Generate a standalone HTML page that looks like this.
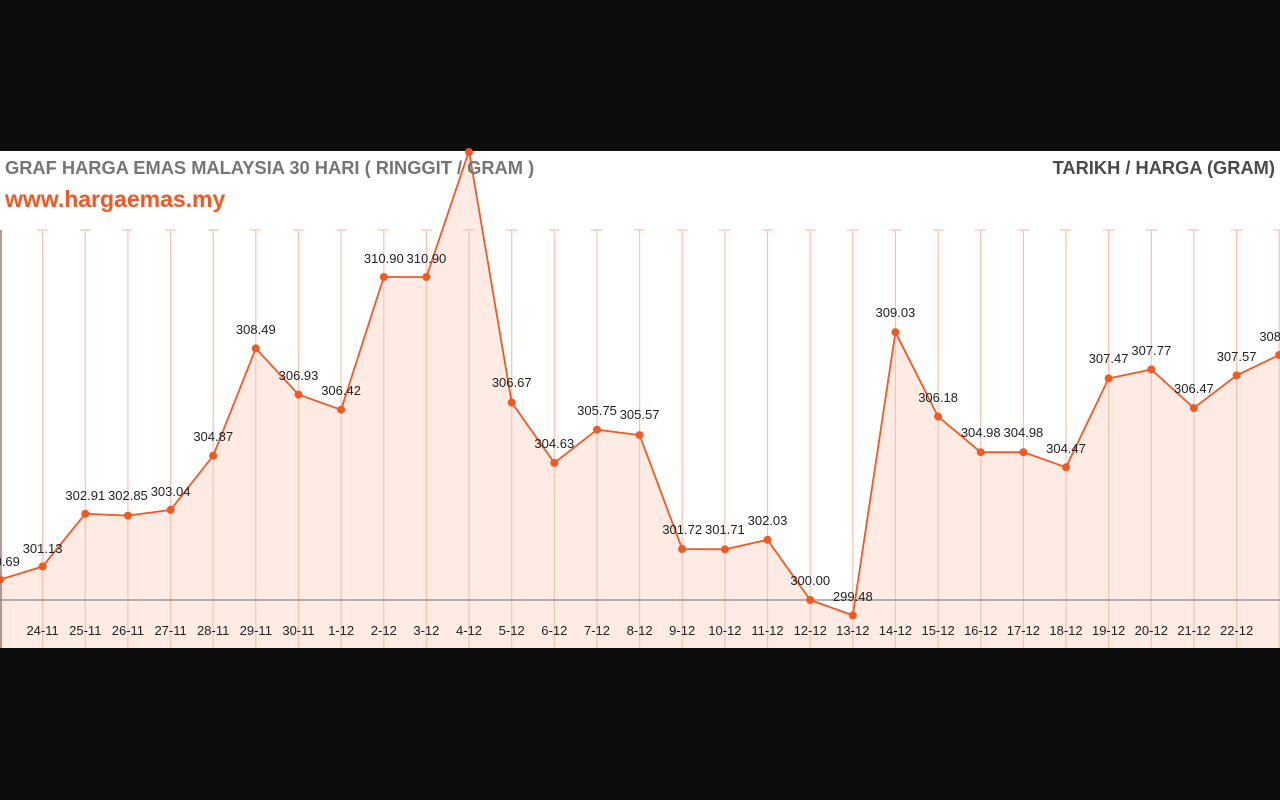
<!DOCTYPE html>
<html><head><meta charset="utf-8"><style>
html,body{margin:0;padding:0;background:#0d0d0d;width:1280px;height:800px;overflow:hidden}
svg{display:block}
</style></head><body>
<svg width="1280" height="800" xmlns="http://www.w3.org/2000/svg" font-family="Liberation Sans, sans-serif">
<rect x="0" y="0" width="1280" height="800" fill="#0d0d0d"/>
<rect x="0" y="151" width="1280" height="497" fill="#ffffff"/>
<polygon fill="#fdebe4" points="0,648 0,579.6 42.6,566.5 85.3,513.8 127.9,515.6 170.6,509.9 213.2,455.7 255.8,348.4 298.5,394.6 341.1,409.7 383.8,277 426.4,277 469,151 511.7,402.5 554.3,462.9 597,429.7 639.6,435.1 682.2,549 724.9,549.3 767.5,539.8 810.2,600 852.8,615.4 895.4,332.2 938.1,416.6 980.7,452.2 1023.4,452.2 1066,467.3 1108.6,378.4 1151.3,369.5 1193.9,408 1236.6,375.4 1279.2,355 1280,355 1280,648"/>
<g stroke="#f7c3b0" stroke-width="1.2">
<line x1="1" y1="230" x2="1" y2="648" stroke="#8a5a4a"/>
<line x1="42.6" y1="230" x2="42.6" y2="648"/><line x1="37" y1="230" x2="48" y2="230"/>
<line x1="85.3" y1="230" x2="85.3" y2="648"/><line x1="80" y1="230" x2="91" y2="230"/>
<line x1="127.9" y1="230" x2="127.9" y2="648"/><line x1="122" y1="230" x2="133" y2="230"/>
<line x1="170.6" y1="230" x2="170.6" y2="648"/><line x1="165" y1="230" x2="176" y2="230"/>
<line x1="213.2" y1="230" x2="213.2" y2="648"/><line x1="208" y1="230" x2="219" y2="230"/>
<line x1="255.8" y1="230" x2="255.8" y2="648"/><line x1="250" y1="230" x2="261" y2="230"/>
<line x1="298.5" y1="230" x2="298.5" y2="648"/><line x1="293" y1="230" x2="304" y2="230"/>
<line x1="341.1" y1="230" x2="341.1" y2="648"/><line x1="336" y1="230" x2="347" y2="230"/>
<line x1="383.8" y1="230" x2="383.8" y2="648"/><line x1="378" y1="230" x2="389" y2="230"/>
<line x1="426.4" y1="230" x2="426.4" y2="648"/><line x1="421" y1="230" x2="432" y2="230"/>
<line x1="469" y1="230" x2="469" y2="648"/><line x1="463" y1="230" x2="475" y2="230"/>
<line x1="511.7" y1="230" x2="511.7" y2="648"/><line x1="506" y1="230" x2="517" y2="230"/>
<line x1="554.3" y1="230" x2="554.3" y2="648"/><line x1="549" y1="230" x2="560" y2="230"/>
<line x1="597" y1="230" x2="597" y2="648"/><line x1="591" y1="230" x2="602" y2="230"/>
<line x1="639.6" y1="230" x2="639.6" y2="648"/><line x1="634" y1="230" x2="645" y2="230"/>
<line x1="682.2" y1="230" x2="682.2" y2="648"/><line x1="677" y1="230" x2="688" y2="230"/>
<line x1="724.9" y1="230" x2="724.9" y2="648"/><line x1="719" y1="230" x2="730" y2="230"/>
<line x1="767.5" y1="230" x2="767.5" y2="648"/><line x1="762" y1="230" x2="773" y2="230"/>
<line x1="810.2" y1="230" x2="810.2" y2="648"/><line x1="805" y1="230" x2="816" y2="230"/>
<line x1="852.8" y1="230" x2="852.8" y2="648"/><line x1="847" y1="230" x2="858" y2="230"/>
<line x1="895.4" y1="230" x2="895.4" y2="648"/><line x1="890" y1="230" x2="901" y2="230"/>
<line x1="938.1" y1="230" x2="938.1" y2="648"/><line x1="933" y1="230" x2="944" y2="230"/>
<line x1="980.7" y1="230" x2="980.7" y2="648"/><line x1="975" y1="230" x2="986" y2="230"/>
<line x1="1023.4" y1="230" x2="1023.4" y2="648"/><line x1="1018" y1="230" x2="1029" y2="230"/>
<line x1="1066" y1="230" x2="1066" y2="648"/><line x1="1060" y1="230" x2="1071" y2="230"/>
<line x1="1108.6" y1="230" x2="1108.6" y2="648"/><line x1="1103" y1="230" x2="1114" y2="230"/>
<line x1="1151.3" y1="230" x2="1151.3" y2="648"/><line x1="1146" y1="230" x2="1157" y2="230"/>
<line x1="1193.9" y1="230" x2="1193.9" y2="648"/><line x1="1188" y1="230" x2="1199" y2="230"/>
<line x1="1236.6" y1="230" x2="1236.6" y2="648"/><line x1="1231" y1="230" x2="1242" y2="230"/>
<line x1="1279.2" y1="230" x2="1279.2" y2="648"/><line x1="1274" y1="230" x2="1280" y2="230"/>
</g>
<line x1="0" y1="600" x2="1280" y2="600" stroke="#8f8583" stroke-width="1.2"/>
<polyline fill="none" stroke="#f05a24" stroke-width="1.8" points="0,579.6 42.6,566.5 85.3,513.8 127.9,515.6 170.6,509.9 213.2,455.7 255.8,348.4 298.5,394.6 341.1,409.7 383.8,277 426.4,277 469,151 511.7,402.5 554.3,462.9 597,429.7 639.6,435.1 682.2,549 724.9,549.3 767.5,539.8 810.2,600 852.8,615.4 895.4,332.2 938.1,416.6 980.7,452.2 1023.4,452.2 1066,467.3 1108.6,378.4 1151.3,369.5 1193.9,408 1236.6,375.4 1279.2,355"/>
<g fill="#f05a24">
<circle cx="0" cy="579.6" r="4"/><circle cx="42.6" cy="566.5" r="4"/><circle cx="85.3" cy="513.8" r="4"/><circle cx="127.9" cy="515.6" r="4"/><circle cx="170.6" cy="509.9" r="4"/><circle cx="213.2" cy="455.7" r="4"/><circle cx="255.8" cy="348.4" r="4"/><circle cx="298.5" cy="394.6" r="4"/><circle cx="341.1" cy="409.7" r="4"/><circle cx="383.8" cy="277" r="4"/><circle cx="426.4" cy="277" r="4"/><circle cx="469" cy="152" r="4"/><circle cx="511.7" cy="402.5" r="4"/><circle cx="554.3" cy="462.9" r="4"/><circle cx="597" cy="429.7" r="4"/><circle cx="639.6" cy="435.1" r="4"/><circle cx="682.2" cy="549" r="4"/><circle cx="724.9" cy="549.3" r="4"/><circle cx="767.5" cy="539.8" r="4"/><circle cx="810.2" cy="600" r="4"/><circle cx="852.8" cy="615.4" r="4"/><circle cx="895.4" cy="332.2" r="4"/><circle cx="938.1" cy="416.6" r="4"/><circle cx="980.7" cy="452.2" r="4"/><circle cx="1023.4" cy="452.2" r="4"/><circle cx="1066" cy="467.3" r="4"/><circle cx="1108.6" cy="378.4" r="4"/><circle cx="1151.3" cy="369.5" r="4"/><circle cx="1193.9" cy="408" r="4"/><circle cx="1236.6" cy="375.4" r="4"/><circle cx="1279.2" cy="355" r="4"/>
</g>
<g font-size="13" fill="#222" text-anchor="middle">
<text x="0" y="566">300.69</text><text x="42.6" y="553">301.13</text><text x="85.3" y="500">302.91</text><text x="127.9" y="500">302.85</text><text x="170.6" y="496">303.04</text><text x="213.2" y="441">304.87</text><text x="255.8" y="334">308.49</text><text x="298.5" y="380">306.93</text><text x="341.1" y="395">306.42</text><text x="383.8" y="263">310.90</text><text x="426.4" y="263">310.90</text><text x="511.7" y="387">306.67</text><text x="554.3" y="448">304.63</text><text x="597" y="415">305.75</text><text x="639.6" y="419">305.57</text><text x="682.2" y="534">301.72</text><text x="724.9" y="534">301.71</text><text x="767.5" y="525">302.03</text><text x="810.2" y="585">300.00</text><text x="852.8" y="601">299.48</text><text x="895.4" y="317">309.03</text><text x="938.1" y="402">306.18</text><text x="980.7" y="437">304.98</text><text x="1023.4" y="437">304.98</text><text x="1066" y="453">304.47</text><text x="1108.6" y="363">307.47</text><text x="1151.3" y="355">307.77</text><text x="1193.9" y="393">306.47</text><text x="1236.6" y="361">307.57</text><text x="1279.2" y="341">308.27</text>
</g>
<g font-size="13" fill="#222" text-anchor="middle">
<text x="42.6" y="635">24-11</text><text x="85.3" y="635">25-11</text><text x="127.9" y="635">26-11</text><text x="170.6" y="635">27-11</text><text x="213.2" y="635">28-11</text><text x="255.8" y="635">29-11</text><text x="298.5" y="635">30-11</text><text x="341.1" y="635">1-12</text><text x="383.8" y="635">2-12</text><text x="426.4" y="635">3-12</text><text x="469" y="635">4-12</text><text x="511.7" y="635">5-12</text><text x="554.3" y="635">6-12</text><text x="597" y="635">7-12</text><text x="639.6" y="635">8-12</text><text x="682.2" y="635">9-12</text><text x="724.9" y="635">10-12</text><text x="767.5" y="635">11-12</text><text x="810.2" y="635">12-12</text><text x="852.8" y="635">13-12</text><text x="895.4" y="635">14-12</text><text x="938.1" y="635">15-12</text><text x="980.7" y="635">16-12</text><text x="1023.4" y="635">17-12</text><text x="1066" y="635">18-12</text><text x="1108.6" y="635">19-12</text><text x="1151.3" y="635">20-12</text><text x="1193.9" y="635">21-12</text><text x="1236.6" y="635">22-12</text>
</g>
<text x="5" y="174" font-size="18.3" font-weight="bold" fill="#757575">GRAF HARGA EMAS MALAYSIA 30 HARI ( RINGGIT / GRAM )</text>
<text x="1275" y="174" font-size="18.3" font-weight="bold" fill="#4a4a4a" text-anchor="end">TARIKH / HARGA (GRAM)</text>
<text x="5" y="207" font-size="23" font-weight="bold" fill="#f05a22">www.hargaemas.my</text>
</svg>
</body></html>
